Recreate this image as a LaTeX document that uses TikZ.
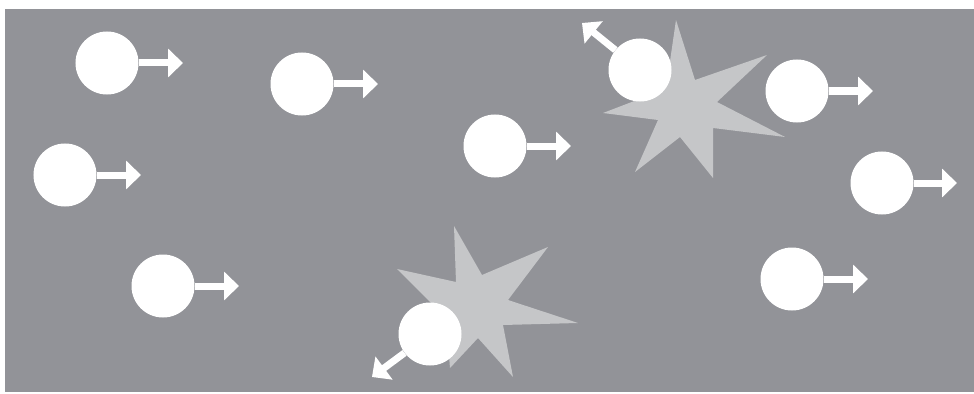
\documentclass[tikz,border=0pt]{standalone}
\usepackage{tikz}
\usetikzlibrary{arrows.meta}
\definecolor{bg}{RGB}{146,147,152}
\definecolor{burst}{RGB}{197,198,200}

\begin{document}
\begin{tikzpicture}[x=0.03cm,y=-0.03cm,
  ball/.style={circle,fill=white,minimum size=1.89cm,inner sep=0pt},
  vel/.style={draw=white,line width=0.21cm,-{Triangle[length=0.45cm,width=0.84cm]}},
  hit/.style={fill=burst}]
\useasboundingbox (0,0) rectangle (974,394);
\fill[bg] (5,9) rectangle (974,392);
% collisions
\fill[hit] (676,20) -- (695,80) -- (767,55) -- (717,102) -- (785,137) -- (713,128)
  -- (713,178) -- (680,137) -- (635,172) -- (658,120) -- (603,113) -- (650,95)
  -- (668,75) -- cycle;
\fill[hit] (454,226) -- (482,275) -- (548,247) -- (508,300) -- (578,323) -- (503,325)
  -- (513,377) -- (478,338) -- (450,368) -- (446,318) -- (397,269) -- (456,282) -- cycle;
% particles
\node[ball] (p1) at (107,63) {};
\node[ball] (p2) at (302,84) {};
\node[ball] (p3) at (65,175) {};
\node[ball] (p4) at (163,286) {};
\node[ball] (p5) at (495,146) {};
\node[ball] (p6) at (640,70) {};
\node[ball] (p7) at (797,91) {};
\node[ball] (p8) at (882,183) {};
\node[ball] (p9) at (792,279) {};
\node[ball] (p10) at (430,334) {};
\draw[vel] (p1) -- ++(76,0);
\draw[vel] (p2) -- ++(76,0);
\draw[vel] (p3) -- ++(76,0);
\draw[vel] (p4) -- ++(76,0);
\draw[vel] (p5) -- ++(76,0);
\draw[vel] (p6) -- ++(-58,-47);
\draw[vel] (p7) -- ++(76,0);
\draw[vel] (p8) -- ++(75,0);
\draw[vel] (p9) -- ++(76,0);
\draw[vel] (p10) -- ++(-58,43);
\end{tikzpicture}
\end{document}
